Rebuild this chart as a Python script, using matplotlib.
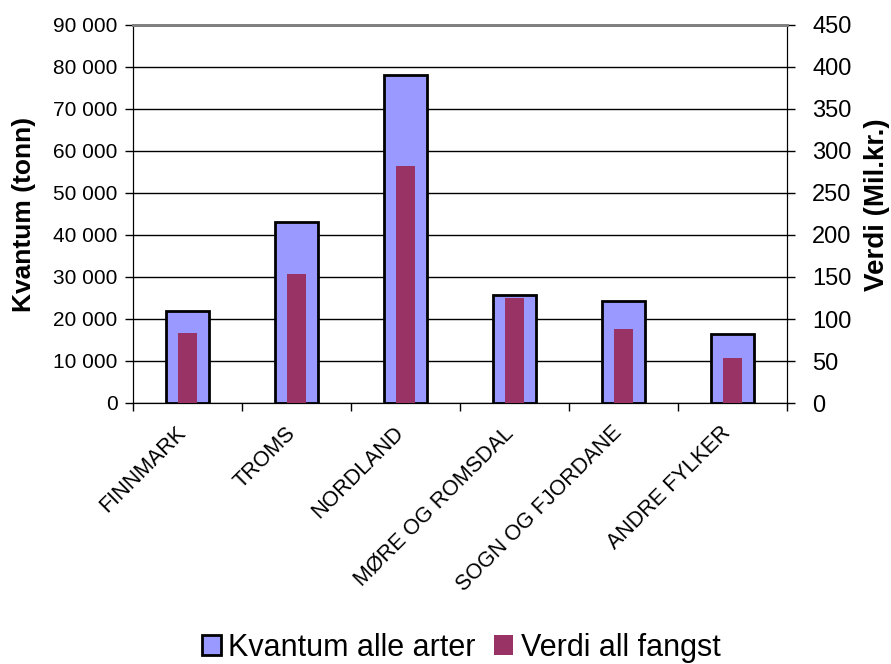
import matplotlib.pyplot as plt
import matplotlib.transforms as mtransforms
import numpy as np

plt.rcParams['font.family'] = ['Liberation Sans', 'DejaVu Sans']

fylker = ['FINNMARK', 'TROMS', 'NORDLAND', 'MØRE OG ROMSDAL', 'SOGN OG FJORDANE', 'ANDRE FYLKER']
kvantum = [22000, 43000, 78000, 25600, 24200, 16500]   # tonn
verdi = [83.7, 153.8, 282.3, 125.3, 88.4, 53.9]         # mill. kr.
kvantum_ticks = list(range(0, 90001, 10000))
verdi_ticks = list(range(0, 451, 50))

W, H = 891, 664
fig = plt.figure(figsize=(W / 100, H / 100), dpi=100)
ax = fig.add_axes([133 / W, 1 - 403 / H, 654 / W, 378 / H])
ax2 = ax.twinx()

x = np.arange(len(fylker))
b1 = ax.bar(x, kvantum, width=0.4, color='#9999FF', edgecolor='black', linewidth=2,
            label='Kvantum alle arter', zorder=3)
b2 = ax2.bar(x, verdi, width=0.17, color='#993366', label='Verdi all fangst', zorder=3)

ax.set_xlim(-0.5, len(fylker) - 0.5)
ax.set_ylim(0, 90000)
ax2.set_ylim(0, 450)
ax.set_yticks(kvantum_ticks)
ax.set_yticklabels([f'{v:,}'.replace(',', ' ') for v in kvantum_ticks], fontsize=15)
ax2.set_yticks(verdi_ticks)
ax2.set_yticklabels([str(v) for v in verdi_ticks], fontsize=17)

# rutenett
ax.grid(axis='y', color='black', linewidth=1, zorder=0)
ax.set_axisbelow(True)

# kategoriticks mellom søylene, navn under søylene
ax.set_xticks(np.arange(len(fylker) + 1) - 0.5)
ax.set_xticklabels([])
ax.set_xticks(x, minor=True)
ax.set_xticklabels(fylker, minor=True, rotation=45, ha='right', va='top',
                   rotation_mode='anchor', fontsize=15.5)
ax.tick_params(axis='x', which='minor', length=0, pad=14)
ax.tick_params(axis='x', which='major', length=6, width=1, direction='out')
ax.tick_params(axis='y', length=6, width=1, direction='out', pad=5)
ax2.tick_params(axis='y', length=6, width=1, direction='out', pad=12)
skift = mtransforms.ScaledTranslation(-12 / 100, 0, fig.dpi_scale_trans)
for t in ax.get_xticklabels(minor=True):
    t.set_transform(t.get_transform() + skift)

for s in ['left', 'bottom', 'right']:
    ax.spines[s].set_color('black')
    ax2.spines[s].set_color('black')
for a in (ax, ax2):
    a.spines['top'].set_color('gray')
    a.spines['top'].set_linewidth(2)

fig.text(24 / W, 1 - 214 / H, 'Kvantum (tonn)', rotation=90, ha='center', va='center',
         fontsize=19, fontweight='bold')
fig.text(877 / W, 1 - 205 / H, 'Verdi (Mil.kr.)', rotation=90, ha='center', va='center',
         fontsize=20, fontweight='bold')

fig.legend([b1, b2], ['Kvantum alle arter', 'Verdi all fangst'], loc='center',
           bbox_to_anchor=(461 / W, 1 - 648 / H), ncol=2, frameon=False, fontsize=22,
           handlelength=0.62, handleheight=0.62, handletextpad=0.25, columnspacing=0.6,
           borderpad=0, borderaxespad=0)

fig.savefig('out.png', dpi=100)
